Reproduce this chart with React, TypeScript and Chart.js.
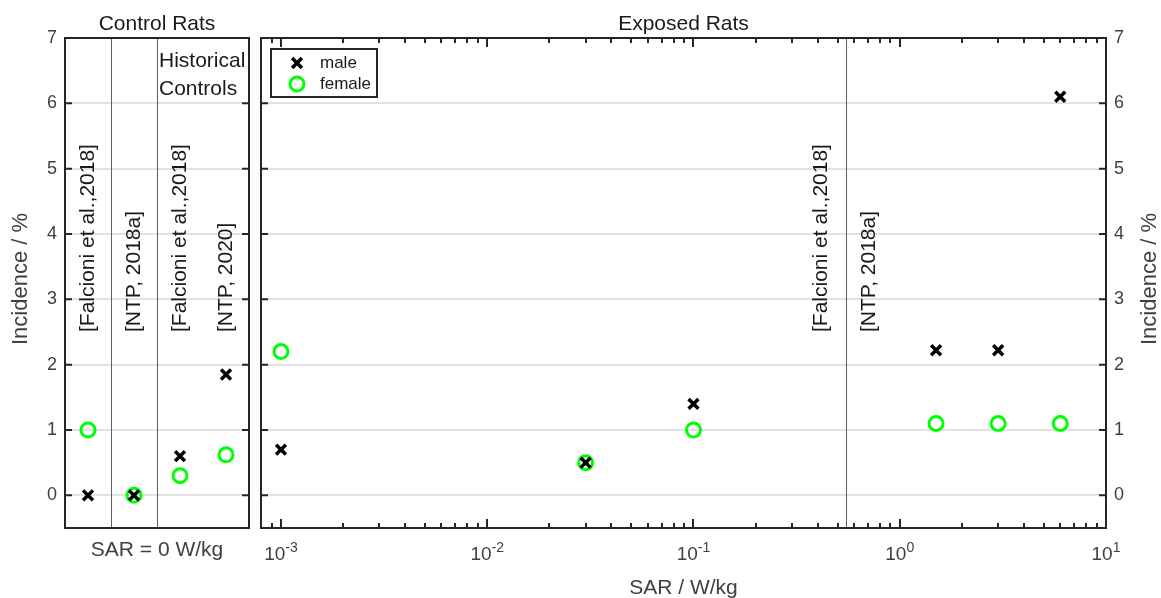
import React, { useEffect, useRef } from "react";
import { Chart, registerables } from "chart.js";

Chart.register(...registerables);

// ---------- data ----------
const controlPositions = [1, 2, 3, 4];
const controlMale = [0, 0, 0.6, 1.85];
const controlFemale = [1.0, 0, 0.3, 0.62];
const controlStudyLabels = ["[Falcioni et al.,2018]", "[NTP, 2018a]", "[Falcioni et al.,2018]", "[NTP, 2020]"];
const controlDividers = [1.5, 2.5];

const exposedSAR = [0.001, 0.03, 0.1, 1.5, 3, 6];
const exposedMale = [0.7, 0.5, 1.4, 2.22, 2.22, 6.1];
const exposedFemale = [2.2, 0.5, 1.0, 1.1, 1.1, 1.1];
const exposedStudyLabels = ["[Falcioni et al.,2018]", "[NTP, 2018a]"];
const exposedStudyLabelX = [0.414, 0.708];
const exposedDividers = [0.55];

const yTicks = [0, 1, 2, 3, 4, 5, 6, 7];
const xDecades = [-3, -2, -1, 0, 1];
const studyLabelY = 2.5;

const FONT = '"Liberation Sans", Arial, Helvetica, sans-serif';
const AXIS = "#262626";
const TICK_TXT = "#404040";
const TXT = "#1a1a1a";
const GREEN = "#00ff00";

function drawText(
  ctx: CanvasRenderingContext2D,
  s: string,
  x: number,
  y: number,
  size: number,
  color: string,
  align: CanvasTextAlign = "center",
  baseline: CanvasTextBaseline = "middle",
  rotate = 0
) {
  ctx.save();
  ctx.translate(x, y);
  if (rotate) ctx.rotate(rotate);
  ctx.font = `${size}px ${FONT}`;
  ctx.fillStyle = color;
  ctx.textAlign = align;
  ctx.textBaseline = baseline;
  ctx.fillText(s, 0, 0);
  ctx.restore();
}

function drawFrameAndYTicks(chart: any) {
  const { ctx, chartArea: a, scales } = chart;
  ctx.save();
  ctx.strokeStyle = AXIS;
  ctx.lineWidth = 2;
  ctx.strokeRect(a.left, a.top, a.right - a.left, a.bottom - a.top);
  yTicks.forEach((v) => {
    const py = scales.y.getPixelForValue(v);
    ctx.beginPath();
    ctx.moveTo(a.left, py);
    ctx.lineTo(a.left + 7, py);
    ctx.moveTo(a.right, py);
    ctx.lineTo(a.right - 7, py);
    ctx.stroke();
  });
  ctx.restore();
}

function drawDividers(chart: any, values: number[]) {
  const { ctx, chartArea: a, scales } = chart;
  ctx.save();
  ctx.strokeStyle = "#5e5e5e";
  ctx.lineWidth = 1;
  values.forEach((v) => {
    const px = Math.round(scales.x.getPixelForValue(v)) + 0.5;
    ctx.beginPath();
    ctx.moveTo(px, a.top);
    ctx.lineTo(px, a.bottom);
    ctx.stroke();
  });
  ctx.restore();
}

function drawStudyLabels(chart: any, xs: number[], labels: string[]) {
  const { ctx, scales } = chart;
  const py = scales.y.getPixelForValue(studyLabelY);
  labels.forEach((s, i) => {
    const px = scales.x.getPixelForValue(xs[i]);
    drawText(ctx, s, px, py, 21, TXT, "left", "middle", -Math.PI / 2);
  });
}

const leftPlugin = {
  id: "leftDecor",
  beforeDatasetsDraw(chart: any) {
    drawDividers(chart, controlDividers);
    drawStudyLabels(chart, controlPositions, controlStudyLabels);
    const { ctx, scales } = chart;
    const hx = scales.x.getPixelForValue(controlDividers[1]) + 2;
    drawText(ctx, "Historical", hx, 67, 21, TXT, "left", "alphabetic");
    drawText(ctx, "Controls", hx, 95, 21, TXT, "left", "alphabetic");
  },
  afterDatasetsDraw(chart: any) {
    drawFrameAndYTicks(chart);
  },
  afterDraw(chart: any) {
    const { ctx, chartArea: a } = chart;
    const cx = (a.left + a.right) / 2;
    drawText(ctx, "Control Rats", cx, 30, 21, TXT, "center", "alphabetic");
    drawText(ctx, "SAR = 0 W/kg", cx, 556, 21, TICK_TXT, "center", "alphabetic");
    drawText(ctx, "Incidence / %", 21, (a.top + a.bottom) / 2 - 4, 22, TICK_TXT, "center", "middle", -Math.PI / 2);
  },
};

const rightPlugin = {
  id: "rightDecor",
  beforeDatasetsDraw(chart: any) {
    drawDividers(chart, exposedDividers);
    drawStudyLabels(chart, exposedStudyLabelX, exposedStudyLabels);
  },
  afterDatasetsDraw(chart: any) {
    drawFrameAndYTicks(chart);
    const { ctx, chartArea: a, scales } = chart;
    const xs = scales.x;
    ctx.save();
    ctx.strokeStyle = AXIS;
    ctx.lineWidth = 2;
    const lo = Math.floor(Math.log10(xs.min));
    const hi = Math.ceil(Math.log10(xs.max));
    for (let e = lo; e <= hi; e++) {
      for (let m = 1; m <= 9; m++) {
        const v = m * Math.pow(10, e);
        if (v < xs.min * 0.9999 || v > xs.max * 1.0001) continue;
        const px = Math.round(xs.getPixelForValue(v));
        const len = m === 1 ? 9 : 5;
        ctx.beginPath();
        ctx.moveTo(px, a.bottom);
        ctx.lineTo(px, a.bottom - len);
        ctx.moveTo(px, a.top);
        ctx.lineTo(px, a.top + len);
        ctx.stroke();
      }
    }
    ctx.restore();
  },
  afterDraw(chart: any) {
    const { ctx, chartArea: a, scales } = chart;
    const cx = (a.left + a.right) / 2;
    drawText(ctx, "Exposed Rats", cx, 30, 21, TXT, "center", "alphabetic");
    drawText(ctx, "SAR / W/kg", cx, 594, 21, TICK_TXT, "center", "alphabetic");
    drawText(ctx, "Incidence / %", chart.width - 11, (a.top + a.bottom) / 2 - 4, 22, TICK_TXT, "center", "middle", -Math.PI / 2);

    // x tick labels with superscripts
    xDecades.forEach((e) => {
      const px = scales.x.getPixelForValue(Math.pow(10, e));
      ctx.save();
      ctx.font = `19px ${FONT}`;
      const w1 = ctx.measureText("10").width;
      ctx.font = `14px ${FONT}`;
      const w2 = ctx.measureText(String(e)).width;
      const start = px - (w1 + w2) / 2;
      ctx.restore();
      drawText(ctx, "10", start, 560, 19, TICK_TXT, "left", "alphabetic");
      drawText(ctx, String(e), start + w1, 552, 14, TICK_TXT, "left", "alphabetic");
    });

    // legend
    const lx = 16, ly = 49, lw = 106, lh = 48;
    ctx.save();
    ctx.fillStyle = "#ffffff";
    ctx.fillRect(lx, ly, lw, lh);
    ctx.strokeStyle = AXIS;
    ctx.lineWidth = 2;
    ctx.strokeRect(lx, ly, lw, lh);
    const mx = lx + 26, my = ly + 14;
    const d = 4.9;
    ctx.strokeStyle = "#000";
    ctx.lineWidth = 3.5;
    ctx.beginPath();
    ctx.moveTo(mx - d, my - d);
    ctx.lineTo(mx + d, my + d);
    ctx.moveTo(mx - d, my + d);
    ctx.lineTo(mx + d, my - d);
    ctx.stroke();
    const fy = ly + 35;
    ctx.strokeStyle = GREEN;
    ctx.lineWidth = 3;
    ctx.beginPath();
    ctx.arc(mx, fy, 7, 0, Math.PI * 2);
    ctx.stroke();
    ctx.restore();
    drawText(ctx, "male", lx + 49, my, 17, TXT, "left", "middle");
    drawText(ctx, "female", lx + 49, fy, 17, TXT, "left", "middle");
  },
};

function yScale(position: "left" | "right", width: number) {
  return {
    type: "linear" as const,
    position,
    min: -0.5,
    max: 7,
    afterFit: (s: any) => {
      s.width = width;
    },
    afterBuildTicks: (s: any) => {
      s.ticks = yTicks.map((v) => ({ value: v }));
    },
    ticks: { font: { family: FONT, size: 18 }, color: TICK_TXT, padding: 8 },
    grid: { color: "#e2e2e2", lineWidth: 2, drawTicks: false },
    border: { display: false },
  };
}

const maleStyle = {
  pointStyle: "crossRot" as const,
  pointRadius: 7,
  pointBorderWidth: 3.5,
  borderColor: "#000000",
  backgroundColor: "#000000",
  showLine: false,
};
const femaleStyle = {
  pointStyle: "circle" as const,
  pointRadius: 7,
  pointBorderWidth: 3,
  borderColor: GREEN,
  backgroundColor: "rgba(0,0,0,0)",
  showLine: false,
};

export default function App() {
  const leftRef = useRef<HTMLCanvasElement>(null);
  const rightRef = useRef<HTMLCanvasElement>(null);

  useEffect(() => {
    const c1 = new Chart(leftRef.current!, {
      type: "scatter",
      data: {
        datasets: [
          { label: "male", data: controlPositions.map((x, i) => ({ x, y: controlMale[i] })), ...maleStyle },
          { label: "female", data: controlPositions.map((x, i) => ({ x, y: controlFemale[i] })), ...femaleStyle },
        ],
      },
      options: {
        responsive: false,
        animation: false,
        events: [],
        layout: { autoPadding: false, padding: { left: 0, right: 6, top: 38, bottom: 70 } },
        plugins: { legend: { display: false }, tooltip: { enabled: false }, title: { display: false } },
        scales: {
          x: { type: "linear", min: 0.5, max: 4.5, display: false },
          y: yScale("left", 65) as any,
        },
      },
      plugins: [leftPlugin],
    });

    const c2 = new Chart(rightRef.current!, {
      type: "scatter",
      data: {
        datasets: [
          { label: "male", data: exposedSAR.map((x, i) => ({ x, y: exposedMale[i] })), ...maleStyle },
          { label: "female", data: exposedSAR.map((x, i) => ({ x, y: exposedFemale[i] })), ...femaleStyle },
        ],
      },
      options: {
        responsive: false,
        animation: false,
        events: [],
        layout: { autoPadding: false, padding: { left: 6, right: 0, top: 38, bottom: 70 } },
        plugins: { legend: { display: false }, tooltip: { enabled: false }, title: { display: false } },
        scales: {
          x: { type: "logarithmic", min: 0.0008, max: 10, display: false },
          y: yScale("right", 55) as any,
        },
      },
      plugins: [rightPlugin],
    });

    return () => {
      c1.destroy();
      c2.destroy();
    };
  }, []);

  return (
    <div style={{ position: "fixed", left: 0, top: 0, width: 1161, height: 598, background: "#ffffff" }}>
      <canvas ref={leftRef} width={255} height={598} style={{ position: "absolute", left: 0, top: 0 }} />
      <canvas ref={rightRef} width={906} height={598} style={{ position: "absolute", left: 255, top: 0 }} />
    </div>
  );
}
